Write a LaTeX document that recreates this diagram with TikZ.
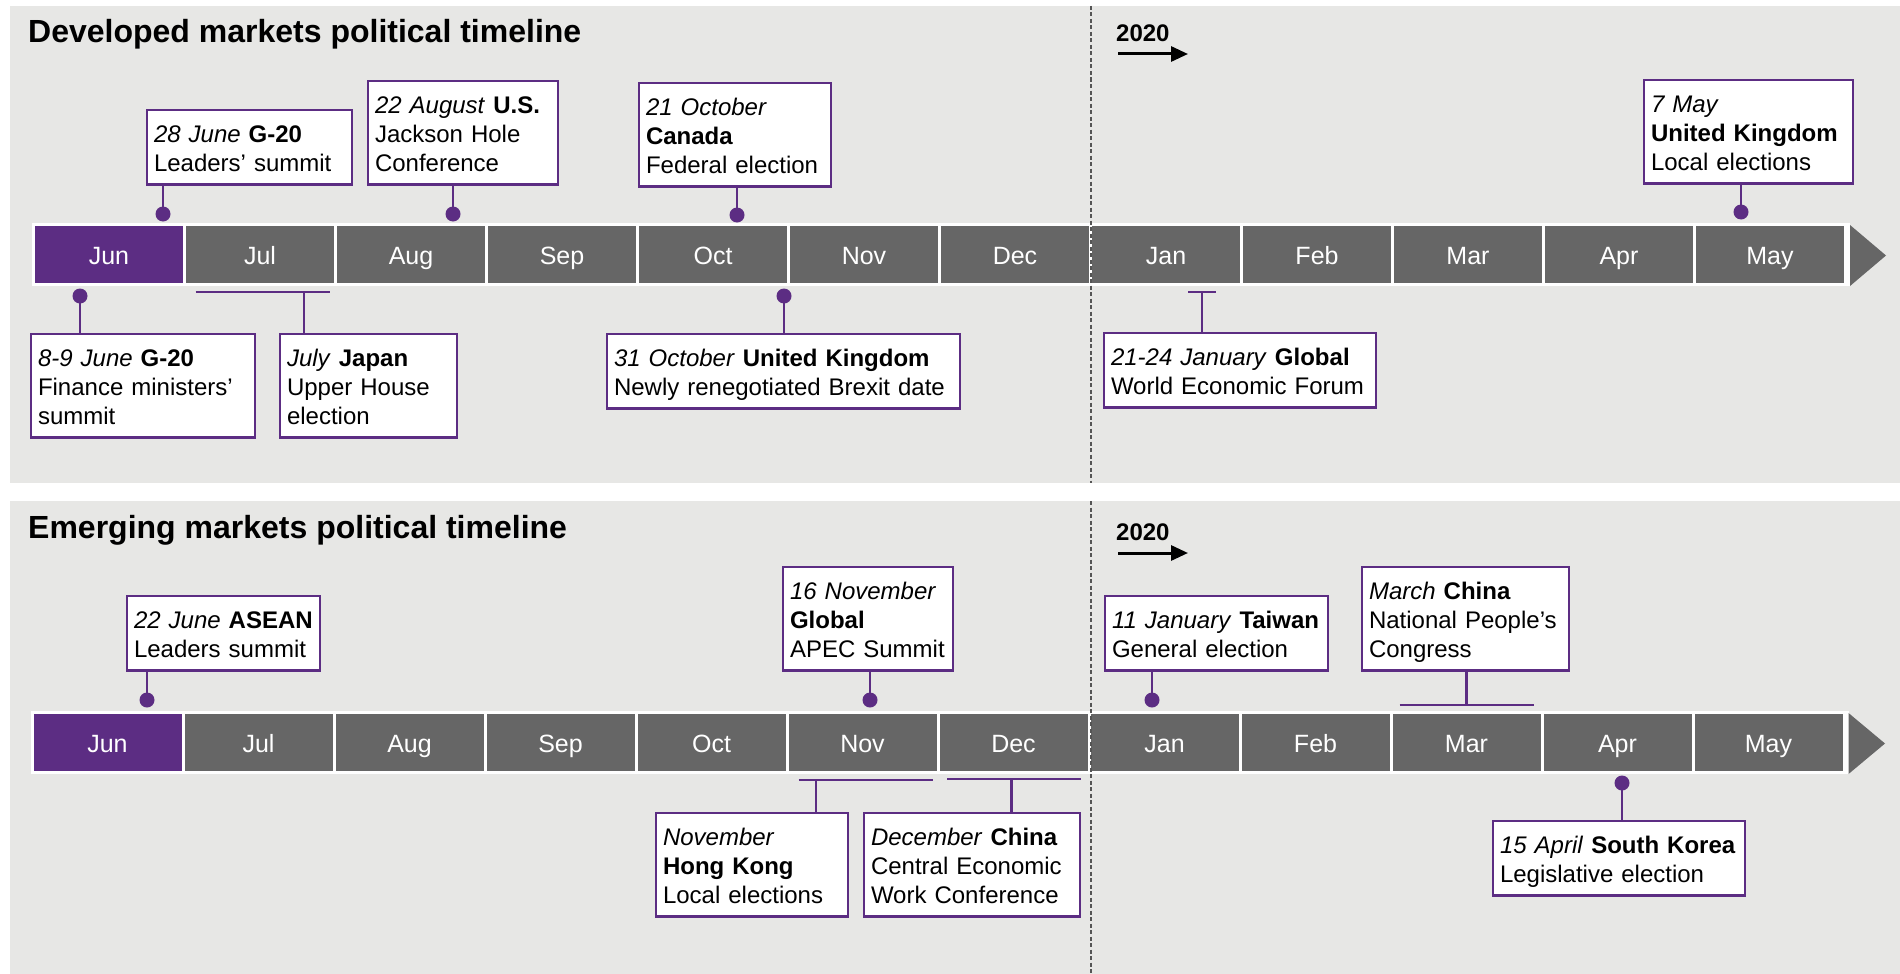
\documentclass[tikz,border=0pt]{standalone}
\usepackage{fontspec}
\setmainfont{Liberation Sans}
\usetikzlibrary{arrows.meta}
\definecolor{pp}{HTML}{5C2D83}
\definecolor{cellgray}{HTML}{666666}
\definecolor{panel}{HTML}{E7E7E5}
\definecolor{dashgray}{HTML}{555555}
\begin{document}
\begin{tikzpicture}[x=1pt,y=-1pt,
  month/.style={fill=cellgray, text=white, minimum width=148pt, minimum height=57pt,
    inner sep=0pt, outer sep=0pt, text height=19.5pt, text depth=0pt,
    font=\fontsize{25}{30}\selectfont},
  evbox/.style={draw=pp, line width=2.7pt, fill=white, anchor=north west,
    inner xsep=7pt, inner ysep=0pt, outer sep=0pt, align=left, text width=#1,
    font=\fontsize{24}{29}\selectfont,
    execute at begin node={\rule{0pt}{32pt}},
    execute at end node={\rule[-13.5pt]{0pt}{13.5pt}}},
  dot/.style={circle, fill=pp, minimum size=15pt, inner sep=0pt, outer sep=0pt},
  conn/.style={draw=pp, line width=2.6pt},
  title/.style={anchor=base west, inner sep=0pt, font=\fontsize{32}{38}\selectfont\bfseries},
  yearlbl/.style={anchor=base west, inner sep=0pt, font=\fontsize{24}{29}\selectfont\bfseries},
  yeararrow/.style={draw=black, line width=3pt, -{Triangle[length=17pt,width=15pt]}},
  divider/.style={draw=dashgray, line width=1.3pt, dash pattern=on 4pt off 2.5pt}
]
\useasboundingbox (0,0) rectangle (1900,974);
% panels
\fill[panel] (10,6) rectangle (1900,483);
\fill[panel] (10,501) rectangle (1900,974);

% titles
\node[title] (t1) at (28,43) {Developed markets political timeline};
\node[title] (t2) at (28,538) {Emerging markets political timeline};

% ---------- top timeline bar ----------
\fill[white] (32,223) rectangle (1850,286);
\foreach \m/\c [count=\i from 0] in {Jun/pp,Jul/cellgray,Aug/cellgray,Sep/cellgray,Oct/cellgray,Nov/cellgray,Dec/cellgray,Jan/cellgray,Feb/cellgray,Mar/cellgray,Apr/cellgray,May/cellgray}
  \node[month, fill=\c] (tm\i) at ({109+151*\i},254.5) {\m};
\fill[cellgray] (1850,225) -- (1886,255.5) -- (1850,286) -- cycle;

% ---------- bottom timeline bar ----------
\fill[white] (30.5,711) rectangle (1848.5,774);
\foreach \m/\c [count=\i from 0] in {Jun/pp,Jul/cellgray,Aug/cellgray,Sep/cellgray,Oct/cellgray,Nov/cellgray,Dec/cellgray,Jan/cellgray,Feb/cellgray,Mar/cellgray,Apr/cellgray,May/cellgray}
  \node[month, fill=\c] (bm\i) at ({107.5+151*\i},742.5) {\m};
\fill[cellgray] (1848.5,713) -- (1885,743.5) -- (1848.5,774) -- cycle;

% dashed divider
\coordinate (dv1) at (1091,6);
\coordinate (dv2) at (1091,483);
\coordinate (dv3) at (1091,501);
\coordinate (dv4) at (1091,974);
\draw[divider] (dv1) -- (dv2);
\draw[divider] (dv3) -- (dv4);

% 2020 labels
\node[yearlbl] (y1) at (1116,42) {2020};
\coordinate (ya1) at (1118,54);
\coordinate (yb1) at (1188,54);
\draw[yeararrow] (ya1) -- (yb1);
\node[yearlbl] (y2) at (1116,540) {2020};
\coordinate (ya2) at (1118,553);
\coordinate (yb2) at (1188,553);
\draw[yeararrow] (ya2) -- (yb2);

% ---------- top panel events ----------
\node[evbox=191pt] (b1) at (147,110) {\textit{28 June} \textbf{G-20}\\Leaders’ summit};
\node[dot] (d1) at (163,214) {};
\draw[conn] (d1.center) -- (d1.center |- b1.south);

\node[evbox=176pt] (b2) at (368,81) {\textit{22 August} \textbf{U.S.}\\Jackson Hole\\Conference};
\node[dot] (d2) at (453,214) {};
\draw[conn] (d2.center) -- (d2.center |- b2.south);

\node[evbox=178pt] (b3) at (639,83) {\textit{21 October}\\\textbf{Canada}\\Federal election};
\node[dot] (d3) at (737,215) {};
\draw[conn] (d3.center) -- (d3.center |- b3.south);

\node[evbox=195pt] (b4) at (1644,80) {\textit{7 May}\\\textbf{United Kingdom}\\Local elections};
\node[dot] (d4) at (1741,212) {};
\draw[conn] (d4.center) -- (d4.center |- b4.south);

\node[evbox=210pt] (b5) at (31,334) {\textit{8-9 June} \textbf{G-20}\\Finance ministers’\\summit};
\node[dot] (d5) at (80,296) {};
\draw[conn] (d5.center) -- (d5.center |- b5.north);

\node[evbox=163pt] (b6) at (280,334) {\textit{July} \textbf{Japan}\\Upper House\\election};
\coordinate (k6l) at (195.5,292);
\coordinate (k6r) at (329.5,292);
\coordinate (k6s) at (304,292);
\draw[conn] (k6l) -- (k6r);
\draw[conn] (k6s) -- (k6s |- b6.north);

\node[evbox=339pt] (b7) at (607,334) {\textit{31 October} \textbf{United Kingdom}\\Newly renegotiated Brexit date};
\node[dot] (d7) at (784,296) {};
\draw[conn] (d7.center) -- (d7.center |- b7.north);

\node[evbox=258pt] (b8) at (1104,333) {\textit{21-24 January} \textbf{Global}\\World Economic Forum};
\coordinate (k8l) at (1188,292);
\coordinate (k8r) at (1216,292);
\coordinate (k8s) at (1202,292);
\draw[conn] (k8l) -- (k8r);
\draw[conn] (k8s) -- (k8s |- b8.north);

% ---------- bottom panel events ----------
\node[evbox=179pt] (ba) at (127,596) {\textit{22 June} \textbf{ASEAN}\\Leaders summit};
\node[dot] (da) at (147,700) {};
\draw[conn] (da.center) -- (da.center |- ba.south);

\node[evbox=156pt] (bb) at (783,567) {\textit{16 November}\\\textbf{Global}\\APEC Summit};
\node[dot] (db) at (870,700) {};
\draw[conn] (db.center) -- (db.center |- bb.south);

\node[evbox=209pt] (bc) at (1105,596) {\textit{11 January} \textbf{Taiwan}\\General election};
\node[dot] (dc) at (1152,700) {};
\draw[conn] (dc.center) -- (dc.center |- bc.south);

\node[evbox=193pt] (bd) at (1362,567) {\textit{March} \textbf{China}\\National People’s\\Congress};
\coordinate (kdl) at (1399.5,705);
\coordinate (kdr) at (1533.5,705);
\coordinate (kds) at (1466.5,705);
\draw[conn] (kdl) -- (kdr);
\draw[conn] (kds) -- (kds |- bd.south);

\node[evbox=178pt] (be) at (656,813) {\textit{November}\\\textbf{Hong Kong}\\Local elections};
\coordinate (kel) at (798.5,780);
\coordinate (ker) at (932.5,780);
\coordinate (kes) at (816,780);
\draw[conn] (kel) -- (ker);
\draw[conn] (kes) -- (kes |- be.north);

\node[evbox=202pt] (bf) at (864,813) {\textit{December} \textbf{China}\\Central Economic\\Work Conference};
\coordinate (kfl) at (947,779);
\coordinate (kfr) at (1081,779);
\coordinate (kfs) at (1011.5,779);
\draw[conn] (kfl) -- (kfr);
\draw[conn] (kfs) -- (kfs |- bf.north);

\node[evbox=238pt] (bg) at (1493,821) {\textit{15 April} \textbf{South Korea}\\Legislative election};
\node[dot] (dg) at (1622,783) {};
\draw[conn] (dg.center) -- (dg.center |- bg.north);
\end{tikzpicture}
\end{document}
